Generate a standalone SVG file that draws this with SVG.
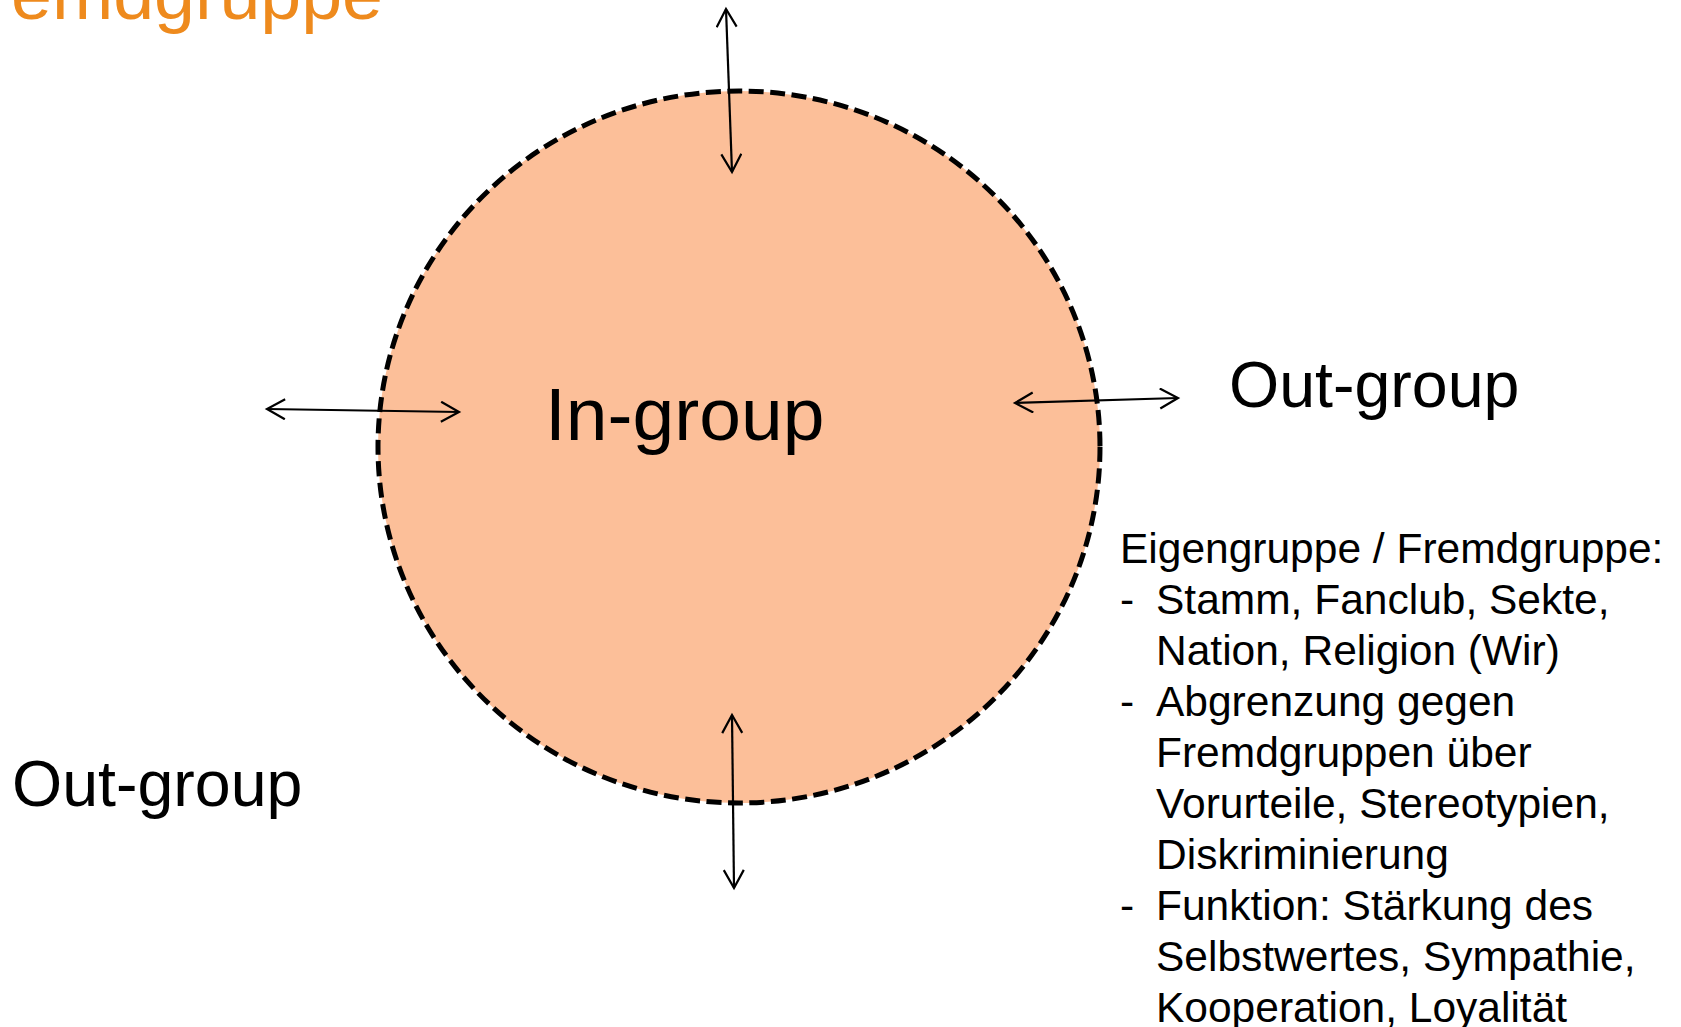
<svg xmlns="http://www.w3.org/2000/svg" width="1681" height="1027" viewBox="0 0 1681 1027">
<defs>
<style>
text{font-family:"Liberation Sans",Arial,sans-serif;fill:#000}
.conn line{stroke:#000;stroke-width:2.2;fill:none;marker-start:url(#ah);marker-end:url(#ah)}
.big{font-size:75px}
.out{font-size:64.5px}
.list{font-size:42.5px}
</style>
<marker id="ah" markerUnits="userSpaceOnUse" markerWidth="24" markerHeight="24" refX="19" refY="11" orient="auto-start-reverse">
<path d="M1,1 L19,11 L1,21" fill="none" stroke="#000" stroke-width="2.2"/>
</marker>
</defs>
<rect width="1681" height="1027" fill="#fff"/>
<text x="11" y="19" style="font-size:70px;fill:#EE8A1D" textLength="372" lengthAdjust="spacingAndGlyphs">emdgruppe</text>
<g id="ingroup">
<ellipse cx="739" cy="447" rx="361" ry="356" fill="#FCBF99" stroke="#000" stroke-width="5" stroke-dasharray="15 6.5"/>
<text class="big" x="545" y="440">In-group</text>
</g>
<g id="outgroup-right">
<text class="out" x="1229" y="407">Out-group</text>
</g>
<g id="outgroup-left">
<text class="out" x="12" y="806">Out-group</text>
</g>
<g id="description">
<text class="list" x="1120" y="563">Eigengruppe / Fremdgruppe:</text>
<text class="list" x="1120" y="614">-</text>
<text class="list" x="1156" y="614">Stamm, Fanclub, Sekte,</text>
<text class="list" x="1156" y="665">Nation, Religion (Wir)</text>
<text class="list" x="1120" y="716">-</text>
<text class="list" x="1156" y="716">Abgrenzung gegen</text>
<text class="list" x="1156" y="767">Fremdgruppen über</text>
<text class="list" x="1156" y="818">Vorurteile, Stereotypien,</text>
<text class="list" x="1156" y="869">Diskriminierung</text>
<text class="list" x="1120" y="920">-</text>
<text class="list" x="1156" y="920">Funktion: Stärkung des</text>
<text class="list" x="1156" y="971">Selbstwertes, Sympathie,</text>
<text class="list" x="1156" y="1022">Kooperation, Loyalität</text>
</g>
<g id="connectors" class="conn">
<line x1="726" y1="9" x2="732" y2="172"/>
<line x1="267" y1="409" x2="459" y2="412"/>
<line x1="1015" y1="403" x2="1178" y2="398"/>
<line x1="732" y1="715" x2="734" y2="888"/>
</g>
</svg>
